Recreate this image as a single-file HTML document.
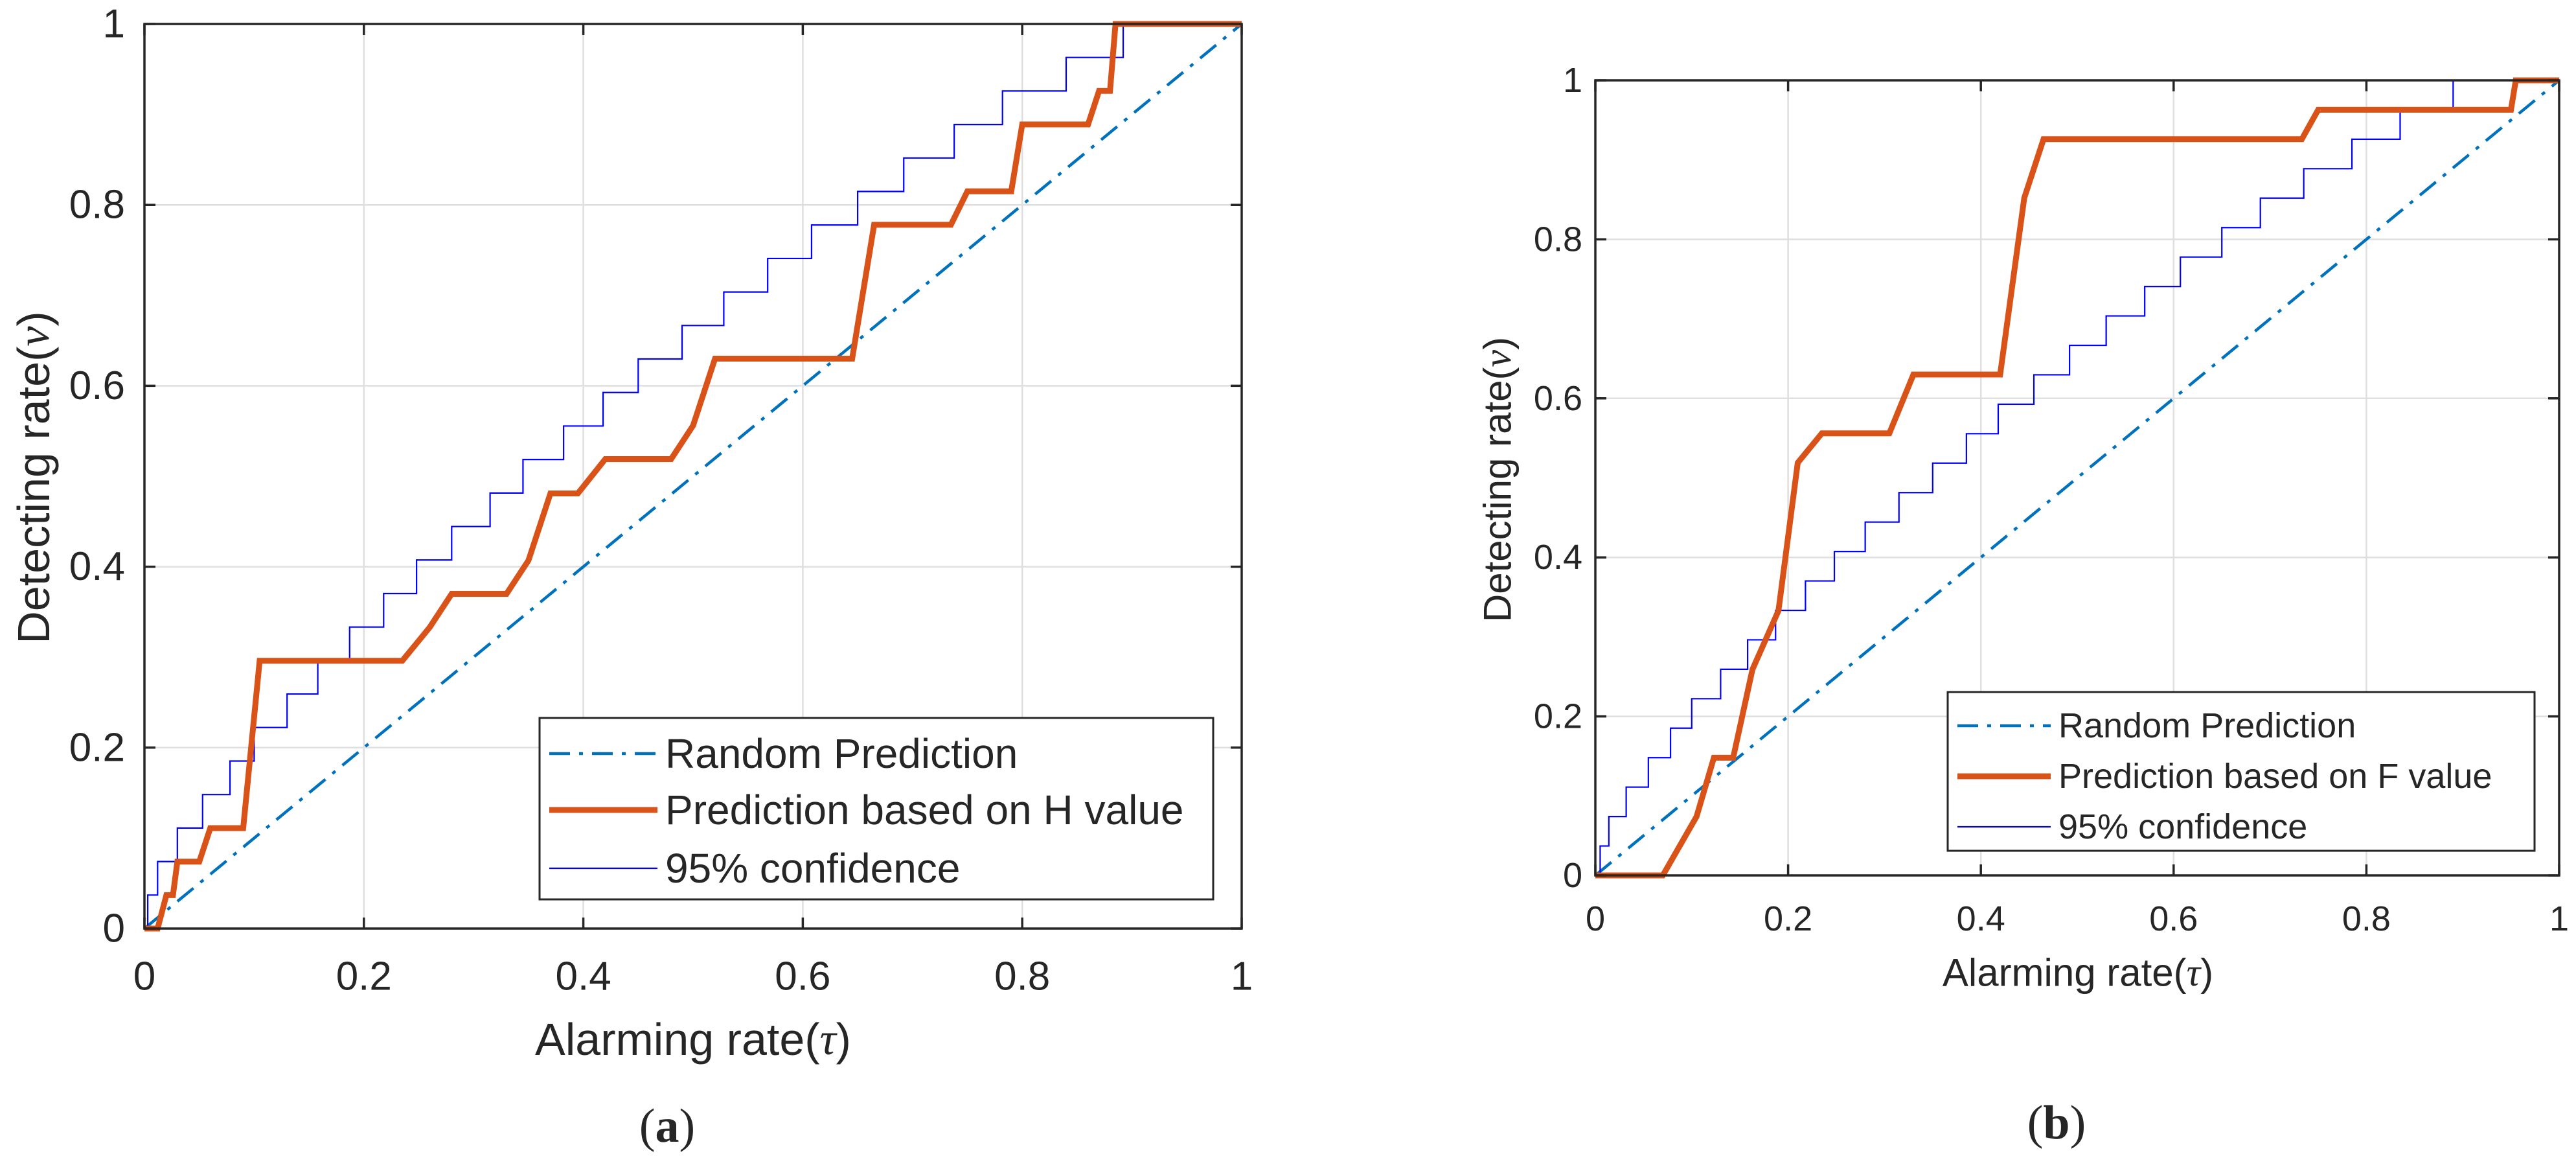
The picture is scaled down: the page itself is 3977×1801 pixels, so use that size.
<!DOCTYPE html>
<html><head><meta charset="utf-8"><style>
html,body{margin:0;padding:0;background:#fff}
svg{display:block}
text{font-family:"Liberation Sans",Arial,sans-serif;fill:#262626}
</style></head><body>
<svg id="fig" width="3977" height="1801" viewBox="0 0 3977 1801" xmlns="http://www.w3.org/2000/svg"></svg>
<script>
// Chart (a) data
const ticksA = [0, 0.2, 0.4, 0.6, 0.8, 1];
const tickLabels = ["0", "0.2", "0.4", "0.6", "0.8", "1"];
const randomX = [0, 1];
const randomY = [0, 1];
const hValueX = [0,0.012,0.02,0.026,0.03,0.05,0.06,0.09,0.105,0.235,0.26,0.28,0.33,0.35,0.37,0.395,0.42,0.48,0.50,0.52,0.645,0.665,0.735,0.75,0.79,0.80,0.86,0.87,0.88,0.885,1];
const hValueY = [0,0,0.037,0.037,0.074,0.074,0.111,0.111,0.296,0.296,0.333,0.37,0.37,0.407,0.481,0.481,0.519,0.519,0.556,0.63,0.63,0.778,0.778,0.815,0.815,0.889,0.889,0.926,0.926,1,1];
const confAStepX = [0.003,0.012,0.03,0.053,0.078,0.10,0.13,0.158,0.187,0.218,0.248,0.28,0.315,0.345,0.382,0.418,0.45,0.49,0.528,0.568,0.608,0.65,0.692,0.738,0.782,0.84,0.892];
// Chart (b) data
const fValueX = [0,0.07,0.105,0.123,0.143,0.163,0.19,0.21,0.235,0.305,0.33,0.42,0.445,0.465,0.733,0.75,0.95,0.955,1];
const fValueY = [0,0,0.074,0.148,0.148,0.259,0.333,0.519,0.556,0.556,0.63,0.63,0.852,0.926,0.926,0.963,0.963,1,1];
const confBStepX = [0.005,0.014,0.032,0.055,0.078,0.10,0.13,0.158,0.187,0.218,0.248,0.28,0.315,0.35,0.385,0.418,0.455,0.492,0.53,0.57,0.607,0.65,0.69,0.735,0.785,0.835,0.89];
const confStep = 1/27;

const NS = "http://www.w3.org/2000/svg";
const svg = document.getElementById('fig');
function mk(tag, attrs, parent){
  const e = document.createElementNS(NS, tag);
  for (const k in attrs) e.setAttribute(k, attrs[k]);
  (parent||svg).appendChild(e);
  return e;
}
function stairs(stepX){
  const xs=[0], ys=[0];
  stepX.forEach((x,i)=>{ xs.push(x); ys.push(i*confStep); xs.push(x); ys.push((i+1)*confStep); });
  xs.push(1); ys.push(Math.min(1, stepX.length*confStep));
  return [xs, ys];
}
function plot(cfg){
  const g = mk('g', {});
  
  
  const {x0,x1,y0,y1,fs,tfs} = cfg;
  const sx = v => x0 + v*(x1-x0);
  const sy = v => y0 - v*(y0-y1);
  // grid
  ticksA.forEach((t,i)=>{
    if(t>0 && t<1){
      const gv = mk('line',{x1:sx(t),x2:sx(t),y1:y1,y2:y0,stroke:'#dfdfdf','stroke-width':2.5},g);
      
      
      const gh = mk('line',{x1:x0,x2:x1,y1:sy(t),y2:sy(t),stroke:'#dfdfdf','stroke-width':2.5},g);
      
      
    }
  });
  const pts = (xs,ys)=>xs.map((x,i)=>sx(x)+','+sy(ys[i])).join(' ');
  // random prediction
  const r = mk('polyline',{points:pts(randomX,randomY),fill:'none',stroke:'#0072BD','stroke-width':4.5,'stroke-dasharray':'32 14 6 14'},g);
  
  
  // confidence
  const [cx,cy] = stairs(cfg.conf);
  const c = mk('polyline',{points:pts(cx,cy),fill:'none',stroke:'#0000FF','stroke-width':2.2},g);
  
  
  // prediction
  const p = mk('polyline',{points:pts(cfg.px,cfg.py),fill:'none',stroke:'#D95319','stroke-width':9,'stroke-linejoin':'miter'},g);
  
  
  // axes box
  const box = mk('rect',{x:x0,y:y1,width:x1-x0,height:y0-y1,fill:'none',stroke:'#262626','stroke-width':3.5},g);
  
  
  ticksA.forEach((t,i)=>{
    mk('line',{x1:sx(t),x2:sx(t),y1:y0,y2:y0-17,stroke:'#262626','stroke-width':3.5},g);
    mk('line',{x1:sx(t),x2:sx(t),y1:y1,y2:y1+17,stroke:'#262626','stroke-width':3.5},g);
    mk('line',{x1:x0,x2:x0+17,y1:sy(t),y2:sy(t),stroke:'#262626','stroke-width':3.5},g);
    mk('line',{x1:x1,x2:x1-17,y1:sy(t),y2:sy(t),stroke:'#262626','stroke-width':3.5},g);
    const xl = mk('text',{x:sx(t),y:cfg.xly,'font-size':fs,'text-anchor':'middle','dominant-baseline':'central'},g);
    xl.textContent = tickLabels[i];
    
    
    const yl = mk('text',{x:cfg.ylx,y:sy(t),'font-size':fs,'text-anchor':'end','dominant-baseline':'central'},g);
    yl.textContent = tickLabels[i];
    
    
  });
  const xt = mk('text',{x:cfg.xtx,y:cfg.xty,'font-size':tfs,'text-anchor':'middle','dominant-baseline':'central'},g);
  xt.innerHTML = 'Alarming rate(<tspan font-family="Liberation Serif" font-style="italic">τ</tspan>)';
  
  
  const yt = mk('text',{x:0,y:0,'font-size':tfs,'text-anchor':'middle','dominant-baseline':'central',transform:`translate(${cfg.ytx},${cfg.yty}) rotate(-90)`},g);
  yt.innerHTML = 'Detecting rate(<tspan font-family="Liberation Serif" font-style="italic">ν</tspan>)';
  
  
  // legend
  const L = cfg.leg;
  const lg = mk('g',{},g);
  
  
  mk('rect',{x:L.x,y:L.y,width:L.w,height:L.h,fill:'#fff',stroke:'#262626','stroke-width':3},lg);
  const items = [
    ['Random Prediction',{stroke:'#0072BD','stroke-width':4.5,'stroke-dasharray':'32 14 6 14'}],
    [cfg.label,{stroke:'#D95319','stroke-width':9}],
    ['95% confidence',{stroke:'#0000FF','stroke-width':2.2}]
  ];
  items.forEach((it,i)=>{
    const yy = L.rows[i];
    const ln = mk('line',Object.assign({x1:L.lx1,x2:L.lx2,y1:yy,y2:yy},it[1]),lg);
    
    
    const tx = mk('text',{x:L.tx,y:yy,'font-size':L.fs,'dominant-baseline':'central',fill:'#000'},lg);
    tx.textContent = it[0];
    
    
  });
  const cap = mk('text',{x:cfg.capx,y:cfg.capy,'font-size':74,'text-anchor':'middle','dominant-baseline':'central','font-family':'Liberation Serif',fill:'#000'},g);
  cap.innerHTML = '(<tspan font-weight="bold">'+cfg.cap+'</tspan>)';
  cap.style.fontFamily='"Liberation Serif",serif';
  
  
}
plot({name:'chart-a',x0:223,x1:1917,y0:1433,y1:37,fs:62,tfs:70,xly:1507,ylx:193,xtx:1070,xty:1604,ytx:52,yty:737,
  px:hValueX,py:hValueY,conf:confAStepX,label:'Prediction based on H value',
  leg:{x:833,y:1108,w:1040,h:280,rows:[1163,1250,1340],lx1:848,lx2:1015,tx:1027,fs:64},capx:1030,capy:1738,cap:'a'});
plot({name:'chart-b',x0:2463,x1:3951,y0:1351,y1:124,fs:54,tfs:60,xly:1418,ylx:2443,xtx:3208,xty:1501,ytx:2312,yty:740,
  px:fValueX,py:fValueY,conf:confBStepX,label:'Prediction based on F value',
  leg:{x:3007,y:1068,w:906,h:245,rows:[1120,1198,1276],lx1:3022,lx2:3166,tx:3178,fs:54},capx:3175,capy:1733,cap:'b'});
</script>
</body></html>
